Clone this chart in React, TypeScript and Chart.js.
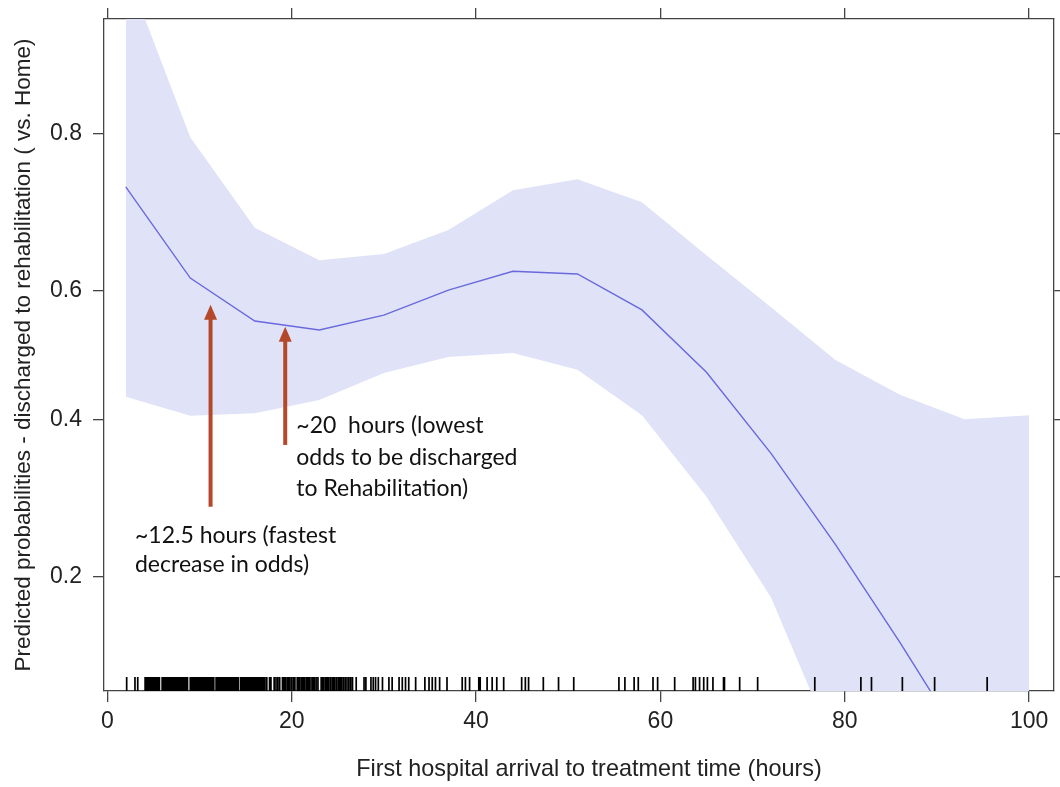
import React, { useEffect, useRef } from "react";
import { Chart, registerables } from "chart.js";

Chart.register(...registerables);

// ---- data ----
const hours = [2, 9, 16, 23, 30, 37, 44, 51, 58, 65, 72, 79, 86, 93, 100];
const fitProb = [0.741, 0.618, 0.553, 0.539, 0.562, 0.6, 0.628, 0.624, 0.57, 0.473, 0.351, 0.234, 0.142, 0.08, 0.043];
const upperProb = [0.918, 0.796, 0.689, 0.644, 0.653, 0.686, 0.737, 0.75, 0.722, 0.651, 0.574, 0.492, 0.438, 0.401, 0.407];
const lowerProb = [0.435, 0.406, 0.41, 0.43, 0.472, 0.497, 0.503, 0.477, 0.407, 0.292, 0.18, 0.078, 0.032, 0.0128, 0.005];

const xTickValues = [0, 20, 40, 60, 80, 100];
const xTickLabels = ["0", "20", "40", "60", "80", "100"];
const yTickProbs = [0.2, 0.4, 0.6, 0.8];
const yTickLabels = ["0.2", "0.4", "0.6", "0.8"];
const xRange = [-0.36, 102.7];
const yProbRange = [0.109, 0.891];

const rugHours = [
  2.1, 3.0, 3.3,
  4.1, 4.2, 4.35, 4.5, 4.6, 4.75, 4.9, 5.0, 5.15, 5.3, 5.4, 5.55, 5.65,
  5.95, 6.05, 6.2, 6.3, 6.45, 6.6, 6.7, 6.85, 7.0, 7.1, 7.25, 7.4, 7.5, 7.65, 7.8, 7.9, 8.05, 8.2, 8.3, 8.45, 8.6, 8.7,
  9.0, 9.1, 9.25, 9.4, 9.5, 9.65, 9.8, 9.9, 10.05, 10.2, 10.3, 10.45, 10.6, 10.7, 10.85, 11.0, 11.1, 11.25, 11.4, 11.55,
  11.8, 11.9, 12.05, 12.2, 12.3, 12.45, 12.6, 12.7, 12.85, 13.0, 13.1, 13.25, 13.4, 13.5, 13.65, 13.8, 13.9, 14.05, 14.2,
  14.45, 14.6, 14.7, 14.85, 15.0, 15.1, 15.25, 15.4, 15.5, 15.65, 15.8, 15.9, 16.05, 16.2, 16.3, 16.45, 16.6, 16.7, 16.85, 17.0, 17.1, 17.3,
  17.6, 17.75, 18.1, 18.3, 18.5, 18.7, 19.0, 19.15, 19.3, 19.5, 19.65, 19.8, 20.0, 20.2, 20.35,
  20.6, 20.75, 20.9, 21.1, 21.25, 21.4, 21.6, 21.75, 21.9, 22.1, 22.3, 22.45, 22.65, 22.85,
  23.2, 23.35, 23.5, 23.7, 23.85, 24.0, 24.2, 24.4, 24.55, 24.7, 24.9, 25.1, 25.25, 25.4, 25.6, 25.8, 26.0, 26.2, 26.4, 26.6,
  27.0, 27.85, 28.05, 28.6, 28.85, 29.1, 29.4, 29.85, 30.55, 30.9, 31.65, 32.0, 32.35, 32.7, 33.45, 34.45, 34.9, 35.25, 35.6,
  36.05, 36.85, 38.5, 38.85, 39.3, 40.3, 40.45, 41.2, 41.75, 42.25, 43.0, 44.95, 45.35, 45.7, 47.3, 48.95, 50.6,
  55.5, 56.15, 57.15, 57.6, 59.2, 59.7, 61.55, 63.55, 63.8, 64.25, 64.7, 65.1, 65.7, 66.85, 66.95, 68.6, 70.55,
  76.75, 81.75, 82.9, 86.25, 89.75, 95.45,
];

// annotations
const arrowHours = [11.2, 19.3];
const arrowTipProb = [0.578, 0.544];
const arrowBaseProb = [0.279, 0.363];
const noteHours = [3.0, 20.5];
const noteProb = [0.236, 0.38];
const noteLineGap = [29.5, 31.5];
const noteLines = [
  ["~12.5 hours (fastest", "decrease in odds)"],
  ["~20  hours (lowest", "odds to be discharged", "to Rehabilitation)"],
];

const xTitle = "First hospital arrival to treatment time (hours)";
const yTitle = "Predicted probabilities - discharged to rehabilitation ( vs. Home)";

// ---- helpers ----
const logit = (p: number) => Math.log(p / (1 - p));
const toPoints = (probs: number[]) => hours.map((h, i) => ({ x: h, y: logit(probs[i]) }));

const AXIS_COLOR = "#444";
const TEXT_COLOR = "#222";
const ARROW_COLOR = "#B5482A";
const SANS = "'Liberation Sans', Arial, Helvetica, sans-serif";

const overlayPlugin = {
  id: "overlay",
  afterDatasetsDraw(chart: any) {
    const { ctx, chartArea, scales } = chart;
    const x = scales.x;
    const y = scales.y;
    // rug
    ctx.save();
    ctx.beginPath();
    ctx.rect(chartArea.left, chartArea.top, chartArea.right - chartArea.left, chartArea.bottom - chartArea.top);
    ctx.clip();
    ctx.strokeStyle = "#000";
    ctx.lineWidth = 1.7;
    ctx.beginPath();
    rugHours.forEach((h) => {
      const px = x.getPixelForValue(h);
      ctx.moveTo(px, chartArea.bottom);
      ctx.lineTo(px, chartArea.bottom - 14);
    });
    ctx.stroke();
    ctx.restore();

    // arrows
    ctx.save();
    ctx.strokeStyle = ARROW_COLOR;
    ctx.fillStyle = ARROW_COLOR;
    ctx.lineWidth = 4;
    arrowHours.forEach((h, i) => {
      const px = x.getPixelForValue(h);
      const tip = y.getPixelForValue(logit(arrowTipProb[i]));
      const base = y.getPixelForValue(logit(arrowBaseProb[i]));
      const headH = 15;
      const headW = 13;
      ctx.beginPath();
      ctx.moveTo(px, base);
      ctx.lineTo(px, tip + headH - 1);
      ctx.stroke();
      ctx.beginPath();
      ctx.moveTo(px, tip);
      ctx.lineTo(px - headW / 2, tip + headH);
      ctx.lineTo(px + headW / 2, tip + headH);
      ctx.closePath();
      ctx.fill();
    });
    ctx.restore();

    // notes
    ctx.save();
    ctx.fillStyle = "#111";
    ctx.font = "23px Lato, 'Open Sans', sans-serif";
    ctx.textAlign = "left";
    ctx.textBaseline = "alphabetic";
    noteLines.forEach((lines, i) => {
      const px = x.getPixelForValue(noteHours[i]);
      const py = y.getPixelForValue(logit(noteProb[i]));
      lines.forEach((t, j) => ctx.fillText(t, px, py + j * noteLineGap[i]));
    });
    ctx.restore();

    // x axis title
    ctx.save();
    ctx.fillStyle = TEXT_COLOR;
    ctx.font = `23.4px ${SANS}`;
    ctx.textAlign = "center";
    ctx.textBaseline = "middle";
    ctx.fillText(xTitle, (chartArea.left + chartArea.right) / 2 + 10, chart.height - 17);
    ctx.restore();
  },
};

export default function App() {
  const canvasRef = useRef<HTMLCanvasElement | null>(null);

  useEffect(() => {
    if (!canvasRef.current) return;
    const yMin = logit(yProbRange[0]);
    const yMax = logit(yProbRange[1]);
    const gridCommon = {
      display: true,
      drawOnChartArea: false,
      drawTicks: true,
      tickLength: 11,
      color: AXIS_COLOR,
      lineWidth: 1.3,
    };
    const borderCommon = { display: true, color: AXIS_COLOR, width: 1.3 };
    const noPad = (s: any) => {
      s.paddingTop = 0;
      s.paddingBottom = 0;
      s.paddingLeft = 0;
      s.paddingRight = 0;
    };

    const chart = new Chart(canvasRef.current, {
      type: "line",
      data: {
        datasets: [
          {
            label: "fit",
            data: toPoints(fitProb),
            borderWidth: 1.4,
            borderColor: "rgb(105,105,220)",
            pointRadius: 0,
            fill: false,
            tension: 0,
            order: 0,
          },
          {
            label: "upper",
            data: toPoints(upperProb),
            borderWidth: 0,
            borderColor: "rgba(0,0,0,0)",
            pointRadius: 0,
            fill: "+1",
            backgroundColor: "rgb(224,227,248)",
            tension: 0,
            order: 2,
          },
          {
            label: "lower",
            data: toPoints(lowerProb),
            borderWidth: 0,
            borderColor: "rgba(0,0,0,0)",
            pointRadius: 0,
            fill: false,
            tension: 0,
            order: 1,
          },
        ],
      },
      options: {
        animation: false,
        responsive: false,
        maintainAspectRatio: false,
        layout: { padding: 0 },
        plugins: {
          legend: { display: false },
          tooltip: { enabled: false },
        },
        scales: {
          x: {
            type: "linear",
            position: "bottom",
            min: xRange[0],
            max: xRange[1],
            afterBuildTicks: (s: any) => {
              s.ticks = xTickValues.map((v) => ({ value: v }));
            },
            afterFit: (s: any) => {
              s.height = 96;
              noPad(s);
            },
            ticks: {
              callback: (_v: any, i: number) => xTickLabels[i],
              color: TEXT_COLOR,
              font: { family: SANS, size: 23 },
              padding: 6,
              maxRotation: 0,
              autoSkip: false,
            },
            grid: gridCommon,
            border: borderCommon,
            title: { display: false, text: xTitle },
          },
          x2: {
            type: "linear",
            position: "top",
            min: xRange[0],
            max: xRange[1],
            afterBuildTicks: (s: any) => {
              s.ticks = xTickValues.map((v) => ({ value: v }));
            },
            afterFit: (s: any) => {
              s.height = 19;
              noPad(s);
            },
            ticks: { display: false },
            grid: gridCommon,
            border: borderCommon,
          },
          y: {
            type: "linear",
            position: "left",
            min: yMin,
            max: yMax,
            afterBuildTicks: (s: any) => {
              s.ticks = yTickProbs.map((p) => ({ value: logit(p) }));
            },
            afterFit: (s: any) => {
              s.width = 104;
              noPad(s);
            },
            ticks: {
              callback: (_v: any, i: number) => yTickLabels[i],
              color: TEXT_COLOR,
              font: { family: SANS, size: 23 },
              padding: 11,
              autoSkip: false,
            },
            grid: gridCommon,
            border: borderCommon,
            title: {
              display: true,
              text: yTitle,
              color: TEXT_COLOR,
              font: { family: SANS, size: 22.5 },
              padding: { top: 10, bottom: 0 },
            },
          },
          y2: {
            type: "linear",
            position: "right",
            min: yMin,
            max: yMax,
            afterBuildTicks: (s: any) => {
              s.ticks = yTickProbs.map((p) => ({ value: logit(p) }));
            },
            afterFit: (s: any) => {
              s.width = 6;
              noPad(s);
            },
            ticks: { display: false },
            grid: gridCommon,
            border: borderCommon,
          },
        },
      },
      plugins: [overlayPlugin],
    } as any);

    return () => chart.destroy();
  }, []);

  return (
    <div style={{ position: "absolute", left: 0, top: 0, width: 1060, height: 787, background: "#fff" }}>
      <canvas ref={canvasRef} width={1060} height={787} style={{ display: "block" }} />
    </div>
  );
}
